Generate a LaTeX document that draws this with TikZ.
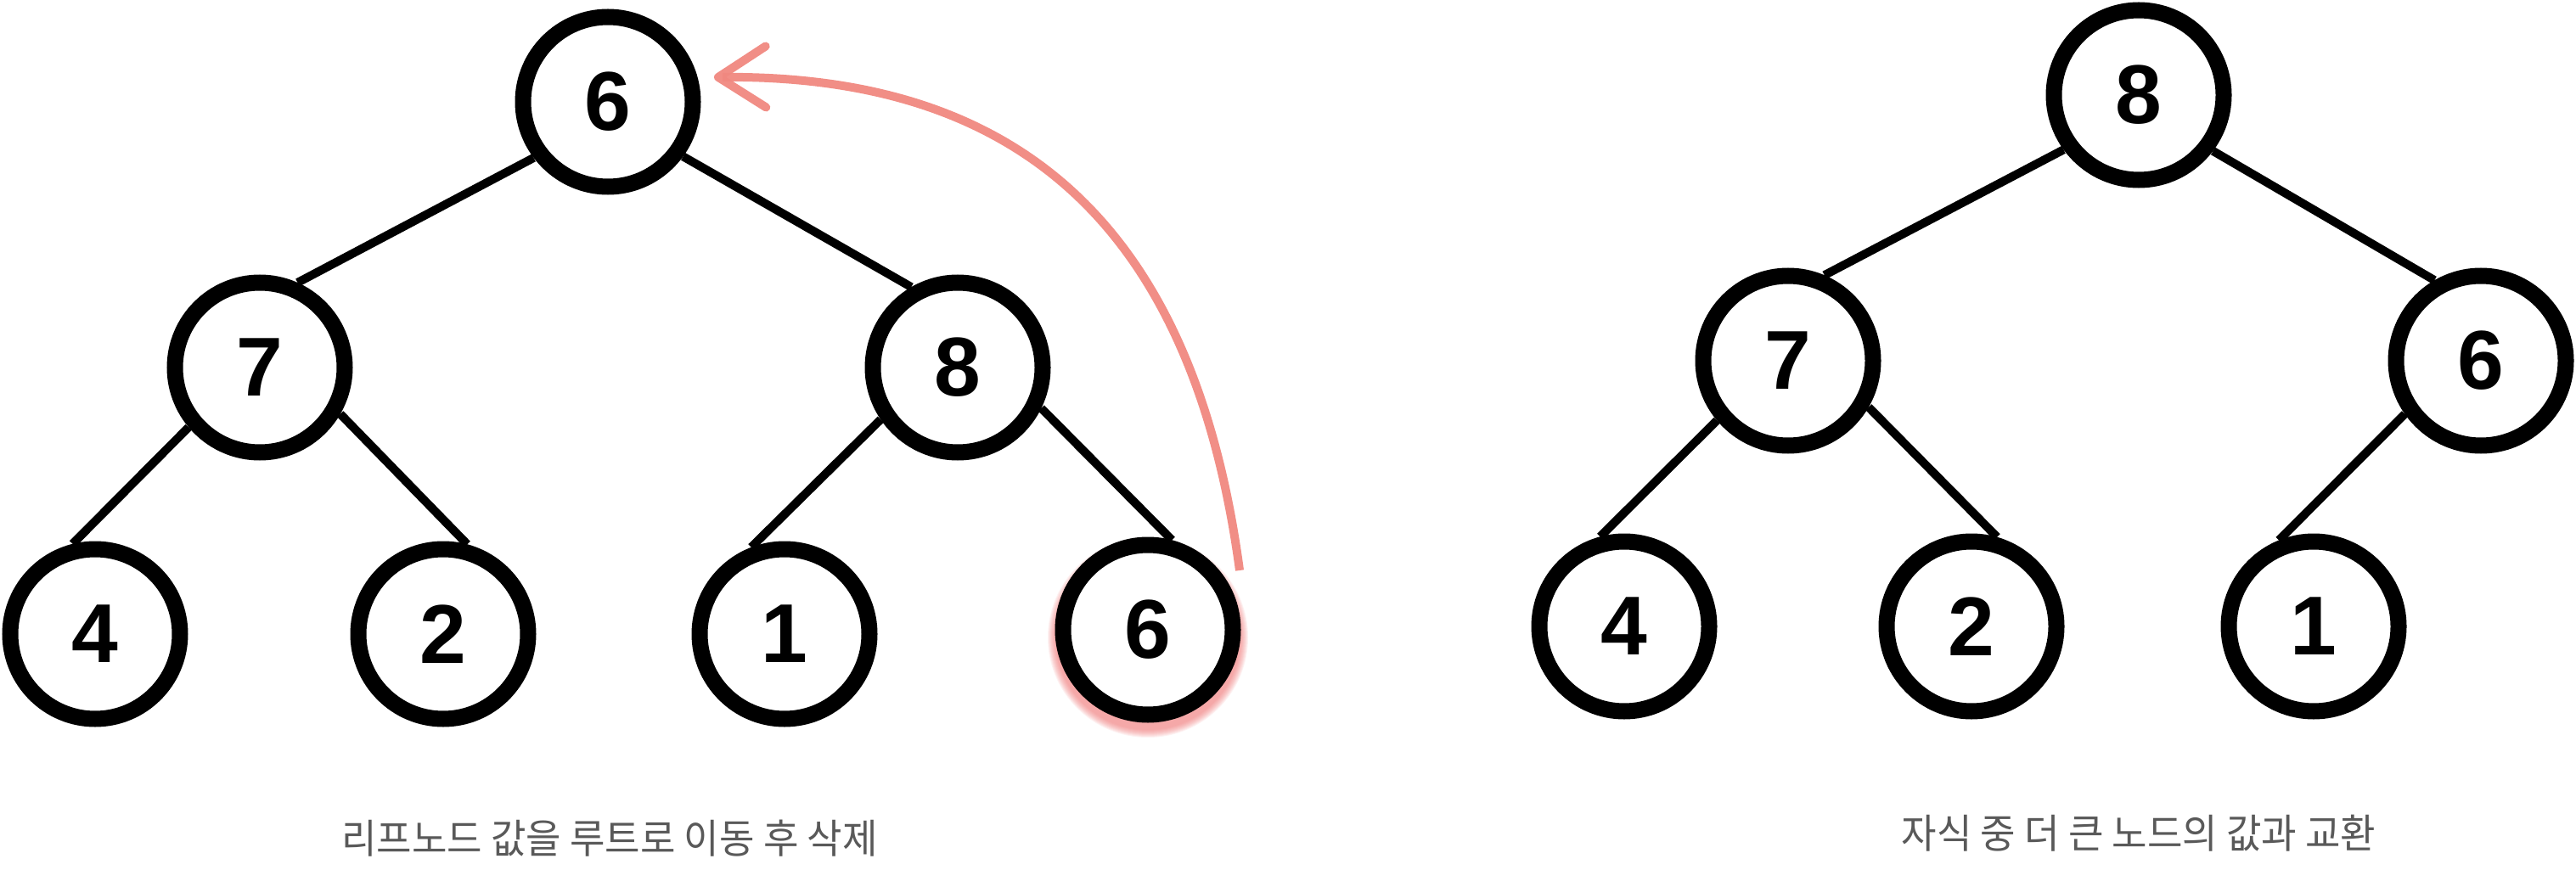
\documentclass[tikz,border=0pt]{standalone}
\usepackage{fontspec}
\usepackage{tikz}
\usetikzlibrary{arrows.meta}
\newfontfamily\digitfont{Liberation Sans}
\newfontfamily\kofont[FakeStretch=0.95]{Noto Sans CJK KR}
\definecolor{chalk}{HTML}{F08880}
\definecolor{glowred}{HTML}{EE7070}
\pgfdeclarelayer{bg}
\pgfsetlayers{bg,main}
\tikzset{
    heap/.style={circle, draw, fill=white, line width=0.19cm, minimum size=2cm, inner sep=0mm,
        font=\digitfont\bfseries\fontsize{28pt}{28pt}\selectfont}
}
\tikzset{caption/.style={draw=none, text=black!65, font=\kofont\fontsize{13.5pt}{13.5pt}\selectfont}}
\tikzset{link/.style={line width=0.1cm}}

\begin{document}
\begin{tikzpicture}
    \useasboundingbox (0cm, 0cm) rectangle (30.34cm, 10.24cm);

    % glow under the leaf that moves
    \foreach \k in {0,...,9}
        \fill[glowred, opacity=0.09] (13.52cm, 2.73cm) circle ({1.09cm+\k*0.01cm});

    \node (r6) [heap] at (7.16cm, 9.04cm) {6};
    \node (a7) [heap] at (3.06cm, 5.91cm) {7};
    \node (a8) [heap] at (11.28cm, 5.91cm) {8};
    \node (a4) [heap] at (1.12cm, 2.77cm) {4};
    \node (a2) [heap] at (5.22cm, 2.77cm) {2};
    \node (a1) [heap] at (9.24cm, 2.77cm) {1};
    \node (a6) [heap] at (13.52cm, 2.82cm) {6};

    \begin{pgfonlayer}{bg}
        \draw[link] (r6.-143) edge (a7.66);
        \draw[link] (r6.-36) edge (a8.120);
        \draw[link] (a7.-140) edge (a4.104);
        \draw[link] (a7.-30) edge (a2.75);
        \draw[link] (a8.-146) edge (a1.111);
        \draw[link] (a8.-26) edge (a6.75);
    \end{pgfonlayer}

    \coordinate (tail) at (14.60cm, 3.52cm);
    \coordinate (tip) at (8.41cm, 9.33cm);
    \draw[chalk, line width=0.1cm, opacity=0.95, -{Straight Barb[length=5.6mm, width=7.2mm, round]}]
        (tail) .. controls (14.05cm, 7.62cm) and (11.96cm, 9.36cm) .. (tip);

    \node (capa) [caption] at (7.18cm, 0.36cm) {리프노드 값을 루트로 이동 후 삭제};

    \node (b8) [heap] at (25.19cm, 9.12cm) {8};
    \node (b7) [heap] at (21.06cm, 5.99cm) {7};
    \node (b6) [heap] at (29.22cm, 5.99cm) {6};
    \node (b4) [heap] at (19.13cm, 2.86cm) {4};
    \node (b2) [heap] at (23.22cm, 2.86cm) {2};
    \node (b1) [heap] at (27.25cm, 2.86cm) {1};

    \begin{pgfonlayer}{bg}
        \draw[link] (b8.-144) edge (b7.67);
        \draw[link] (b8.-37) edge (b6.120);
        \draw[link] (b7.-140) edge (b4.105);
        \draw[link] (b7.-30) edge (b2.74);
        \draw[link] (b6.-145) edge (b1.112);
    \end{pgfonlayer}

    \node (capb) [caption] at (25.19cm, 0.42cm) {자식 중 더 큰 노드의 값과 교환};
\end{tikzpicture}
\end{document}
